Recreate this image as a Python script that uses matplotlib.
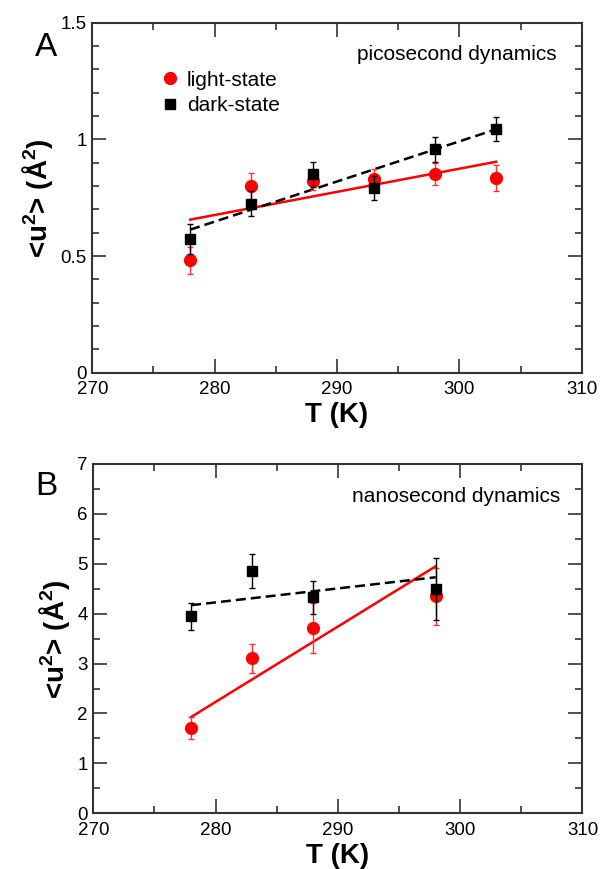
import matplotlib
matplotlib.use('Agg')
import matplotlib.pyplot as plt
from matplotlib.lines import Line2D
from matplotlib.ticker import MultipleLocator, FuncFormatter

plt.rcParams['font.family'] = ['Liberation Sans', 'DejaVu Sans']
plt.rcParams['mathtext.fontset'] = 'custom'
plt.rcParams['mathtext.rm'] = 'Liberation Sans:bold'
plt.rcParams['mathtext.bf'] = 'Liberation Sans:bold'
plt.rcParams['mathtext.default'] = 'rm'

# panel A: picosecond dynamics
tempA = [278, 283, 288, 293, 298, 303]
lightA = [0.481, 0.799, 0.821, 0.828, 0.850, 0.835]
lightErrA = [0.059, 0.055, 0.040, 0.045, 0.047, 0.055]
darkA = [0.574, 0.725, 0.850, 0.792, 0.957, 1.043]
darkErrA = [0.064, 0.055, 0.055, 0.050, 0.053, 0.052]
fitTempA = [278, 303]
lightFitA = [0.656, 0.904]
darkFitA = [0.613, 1.043]

# panel B: nanosecond dynamics
tempB = [278, 283, 288, 298]
lightB = [1.70, 3.11, 3.71, 4.35]
lightErrB = [0.22, 0.29, 0.50, 0.57]
darkB = [3.95, 4.85, 4.33, 4.50]
darkErrB = [0.27, 0.34, 0.33, 0.62]
fitTempB = [278, 298]
lightFitB = [1.93, 4.95]
darkFitB = [4.17, 4.73]

fig = plt.figure(figsize=(6.02, 8.69), dpi=100)
axA = fig.add_axes([0.1533, 0.5711, 0.813, 0.4028])
axB = fig.add_axes([0.155, 0.0641, 0.8126, 0.402])


def drawPanel(ax, temp, light, lightErr, dark, darkErr, fitTemp, lightFit, darkFit):
    ax.plot(fitTemp, lightFit, color='red', lw=1.8, zorder=2)
    ax.plot(fitTemp, darkFit, color='black', lw=1.8, ls=(0, (4, 2)), zorder=2)
    ax.errorbar(temp, light, yerr=lightErr, fmt='o', color='red', ms=8.5,
                ecolor='#ff3030', elinewidth=1, capsize=2.5, capthick=1, zorder=3)
    ax.errorbar(temp, dark, yerr=darkErr, fmt='s', color='black', ms=7.5,
                ecolor='black', elinewidth=1, capsize=2.5, capthick=1, zorder=4)
    ax.set_xlim(270, 310)
    ax.xaxis.set_major_locator(MultipleLocator(10))
    ax.xaxis.set_minor_locator(MultipleLocator(5))
    ax.yaxis.set_major_formatter(FuncFormatter(lambda v, p: '%g' % v))
    ax.tick_params(which='both', direction='in', top=True, right=True,
                   labelsize=13.5, color='#444444')
    ax.tick_params(axis='x', pad=6)
    ax.tick_params(axis='y', pad=4)
    ax.tick_params(which='major', length=10, width=1.3)
    ax.tick_params(which='minor', length=5, width=1.3)
    for s in ax.spines.values():
        s.set_linewidth(1.5)
        s.set_color('#333333')
    ax.set_xlabel('T (K)', fontsize=20, fontweight='bold', labelpad=3)
    ax.set_ylabel(r'<u$^{2}$> (Å$^{2}$)', fontsize=20, fontweight='bold', labelpad=4)


drawPanel(axA, tempA, lightA, lightErrA, darkA, darkErrA, fitTempA, lightFitA, darkFitA)
axA.set_ylim(0, 1.5)
axA.yaxis.set_major_locator(MultipleLocator(0.5))
axA.yaxis.set_minor_locator(MultipleLocator(0.1))
axA.text(0.948, 0.908, 'picosecond dynamics', transform=axA.transAxes,
         ha='right', va='center', fontsize=15)
handles = [
    Line2D([], [], marker='o', color='red', ls='none', ms=8.5),
    Line2D([], [], marker='s', color='black', ls='none', ms=7.5),
]
axA.legend(handles, ['light-state', 'dark-state'], loc='center left',
           bbox_to_anchor=(0.108, 0.80), frameon=False, fontsize=15,
           handletextpad=0.1, labelspacing=0.3, borderpad=0, handlelength=1.4)

drawPanel(axB, tempB, lightB, lightErrB, darkB, darkErrB, fitTempB, lightFitB, darkFitB)
axB.set_ylim(0, 7)
axB.yaxis.set_major_locator(MultipleLocator(1))
axB.yaxis.set_minor_locator(MultipleLocator(0.5))
axB.text(0.954, 0.908, 'nanosecond dynamics', transform=axB.transAxes,
         ha='right', va='center', fontsize=15)

fig.text(0.0765, 0.945, 'A', fontsize=24, ha='center', va='center')
fig.text(0.0777, 0.4396, 'B', fontsize=24, ha='center', va='center')

fig.savefig('out.png', dpi=100)
